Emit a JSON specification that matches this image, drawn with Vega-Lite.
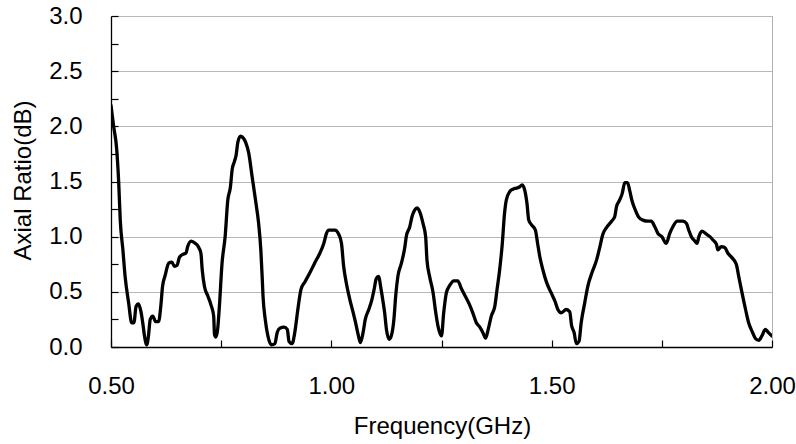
{
  "$schema": "https://vega.github.io/schema/vega-lite/v6.json",
  "width": 661,
  "height": 331,
  "autosize": {"type": "none"},
  "padding": {"left": 111, "top": 16, "right": 24, "bottom": 97},
  "background": "white",
  "config": {
    "view": {"stroke": "#b0b0b0", "strokeWidth": 1},
    "font": "Liberation Sans"
  },
  "data": {"values": [
    {"f":0.500,"ar":2.19},{"f":0.506,"ar":2.00},{"f":0.513,"ar":1.79},{"f":0.5175,"ar":1.49},{"f":0.521,"ar":1.15},
    {"f":0.527,"ar":0.88},{"f":0.532,"ar":0.64},{"f":0.540,"ar":0.40},{"f":0.547,"ar":0.22},{"f":0.552,"ar":0.22},
    {"f":0.557,"ar":0.37},{"f":0.562,"ar":0.39},{"f":0.568,"ar":0.32},{"f":0.572,"ar":0.22},{"f":0.576,"ar":0.10},
    {"f":0.581,"ar":0.02},{"f":0.585,"ar":0.10},{"f":0.589,"ar":0.25},{"f":0.595,"ar":0.28},{"f":0.601,"ar":0.23},
    {"f":0.608,"ar":0.23},{"f":0.613,"ar":0.37},{"f":0.617,"ar":0.55},{"f":0.623,"ar":0.65},{"f":0.631,"ar":0.76},
    {"f":0.638,"ar":0.77},{"f":0.644,"ar":0.73},{"f":0.650,"ar":0.74},{"f":0.655,"ar":0.81},{"f":0.663,"ar":0.84},
    {"f":0.670,"ar":0.85},{"f":0.674,"ar":0.91},{"f":0.682,"ar":0.96},{"f":0.691,"ar":0.94},{"f":0.698,"ar":0.91},
    {"f":0.704,"ar":0.85},{"f":0.707,"ar":0.70},{"f":0.712,"ar":0.55},{"f":0.720,"ar":0.46},{"f":0.727,"ar":0.38},
    {"f":0.733,"ar":0.28},{"f":0.735,"ar":0.11},{"f":0.738,"ar":0.09},{"f":0.742,"ar":0.16},{"f":0.746,"ar":0.37},
    {"f":0.752,"ar":0.76},{"f":0.759,"ar":1.00},{"f":0.765,"ar":1.33},{"f":0.771,"ar":1.45},{"f":0.775,"ar":1.61},
    {"f":0.780,"ar":1.68},{"f":0.784,"ar":1.74},{"f":0.788,"ar":1.86},{"f":0.794,"ar":1.91},{"f":0.801,"ar":1.89},
    {"f":0.806,"ar":1.85},{"f":0.8125,"ar":1.76},{"f":0.820,"ar":1.55},{"f":0.828,"ar":1.33},{"f":0.835,"ar":1.12},
    {"f":0.840,"ar":0.88},{"f":0.843,"ar":0.64},{"f":0.845,"ar":0.46},{"f":0.850,"ar":0.25},{"f":0.856,"ar":0.10},
    {"f":0.864,"ar":0.02},{"f":0.872,"ar":0.03},{"f":0.877,"ar":0.13},{"f":0.883,"ar":0.17},{"f":0.893,"ar":0.18},
    {"f":0.900,"ar":0.16},{"f":0.904,"ar":0.05},{"f":0.911,"ar":0.03},{"f":0.917,"ar":0.13},{"f":0.924,"ar":0.34},
    {"f":0.931,"ar":0.52},{"f":0.940,"ar":0.59},{"f":0.951,"ar":0.67},{"f":0.962,"ar":0.76},{"f":0.974,"ar":0.85},
    {"f":0.983,"ar":0.94},{"f":0.989,"ar":1.03},{"f":0.994,"ar":1.06},{"f":1.008,"ar":1.06},{"f":1.017,"ar":1.02},
    {"f":1.023,"ar":0.94},{"f":1.028,"ar":0.73},{"f":1.034,"ar":0.58},{"f":1.042,"ar":0.43},{"f":1.049,"ar":0.32},
    {"f":1.055,"ar":0.22},{"f":1.061,"ar":0.11},{"f":1.066,"ar":0.04},{"f":1.072,"ar":0.13},{"f":1.077,"ar":0.25},
    {"f":1.085,"ar":0.34},{"f":1.092,"ar":0.43},{"f":1.097,"ar":0.52},{"f":1.102,"ar":0.62},{"f":1.107,"ar":0.64},
    {"f":1.113,"ar":0.52},{"f":1.117,"ar":0.42},{"f":1.121,"ar":0.31},{"f":1.125,"ar":0.16},{"f":1.131,"ar":0.07},
    {"f":1.136,"ar":0.10},{"f":1.142,"ar":0.25},{"f":1.146,"ar":0.46},{"f":1.151,"ar":0.64},{"f":1.159,"ar":0.76},
    {"f":1.167,"ar":0.91},{"f":1.170,"ar":1.00},{"f":1.178,"ar":1.09},{"f":1.183,"ar":1.18},{"f":1.189,"ar":1.24},
    {"f":1.195,"ar":1.26},{"f":1.202,"ar":1.21},{"f":1.208,"ar":1.12},{"f":1.214,"ar":1.00},{"f":1.217,"ar":0.79},
    {"f":1.223,"ar":0.64},{"f":1.231,"ar":0.49},{"f":1.237,"ar":0.31},{"f":1.242,"ar":0.19},{"f":1.250,"ar":0.10},
    {"f":1.255,"ar":0.31},{"f":1.261,"ar":0.49},{"f":1.269,"ar":0.56},{"f":1.278,"ar":0.60},{"f":1.287,"ar":0.60},
    {"f":1.295,"ar":0.53},{"f":1.304,"ar":0.46},{"f":1.314,"ar":0.38},{"f":1.321,"ar":0.31},{"f":1.329,"ar":0.22},
    {"f":1.337,"ar":0.18},{"f":1.344,"ar":0.13},{"f":1.350,"ar":0.08},{"f":1.356,"ar":0.16},{"f":1.363,"ar":0.28},
    {"f":1.371,"ar":0.37},{"f":1.376,"ar":0.52},{"f":1.382,"ar":0.70},{"f":1.388,"ar":0.94},{"f":1.393,"ar":1.21},
    {"f":1.397,"ar":1.33},{"f":1.405,"ar":1.41},{"f":1.412,"ar":1.43},{"f":1.420,"ar":1.44},{"f":1.427,"ar":1.45},
    {"f":1.433,"ar":1.47},{"f":1.439,"ar":1.42},{"f":1.444,"ar":1.30},{"f":1.448,"ar":1.15},{"f":1.454,"ar":1.11},
    {"f":1.463,"ar":1.06},{"f":1.468,"ar":0.94},{"f":1.473,"ar":0.82},{"f":1.480,"ar":0.70},{"f":1.488,"ar":0.59},
    {"f":1.499,"ar":0.49},{"f":1.508,"ar":0.41},{"f":1.514,"ar":0.34},{"f":1.522,"ar":0.31},{"f":1.533,"ar":0.34},
    {"f":1.541,"ar":0.32},{"f":1.545,"ar":0.20},{"f":1.551,"ar":0.13},{"f":1.556,"ar":0.03},{"f":1.562,"ar":0.05},
    {"f":1.567,"ar":0.22},{"f":1.575,"ar":0.40},{"f":1.582,"ar":0.55},{"f":1.592,"ar":0.68},{"f":1.602,"ar":0.79},
    {"f":1.609,"ar":0.90},{"f":1.616,"ar":1.02},{"f":1.624,"ar":1.08},{"f":1.636,"ar":1.14},{"f":1.643,"ar":1.18},
    {"f":1.647,"ar":1.27},{"f":1.654,"ar":1.33},{"f":1.660,"ar":1.39},{"f":1.666,"ar":1.49},{"f":1.672,"ar":1.49},
    {"f":1.677,"ar":1.42},{"f":1.682,"ar":1.33},{"f":1.690,"ar":1.24},{"f":1.697,"ar":1.18},{"f":1.707,"ar":1.15},
    {"f":1.719,"ar":1.14},{"f":1.726,"ar":1.14},{"f":1.734,"ar":1.09},{"f":1.741,"ar":1.03},{"f":1.750,"ar":1.00},
    {"f":1.760,"ar":0.94},{"f":1.768,"ar":1.03},{"f":1.775,"ar":1.09},{"f":1.785,"ar":1.14},{"f":1.798,"ar":1.14},
    {"f":1.806,"ar":1.12},{"f":1.811,"ar":1.06},{"f":1.817,"ar":1.00},{"f":1.825,"ar":0.96},{"f":1.830,"ar":0.94},
    {"f":1.834,"ar":1.00},{"f":1.841,"ar":1.05},{"f":1.849,"ar":1.03},{"f":1.859,"ar":1.00},{"f":1.866,"ar":0.97},
    {"f":1.874,"ar":0.93},{"f":1.877,"ar":0.88},{"f":1.885,"ar":0.91},{"f":1.893,"ar":0.90},{"f":1.900,"ar":0.85},
    {"f":1.909,"ar":0.81},{"f":1.919,"ar":0.75},{"f":1.924,"ar":0.65},{"f":1.932,"ar":0.49},{"f":1.940,"ar":0.34},
    {"f":1.947,"ar":0.22},{"f":1.955,"ar":0.14},{"f":1.962,"ar":0.08},{"f":1.970,"ar":0.06},{"f":1.977,"ar":0.10},
    {"f":1.985,"ar":0.16},{"f":1.992,"ar":0.13},{"f":2.000,"ar":0.10}
  ]},
  "mark": {"type": "line", "color": "black", "strokeWidth": 3.3, "strokeJoin": "round", "strokeCap": "round", "interpolate": "monotone", "clip": true},
  "encoding": {
    "x": {
      "field": "f", "type": "quantitative",
      "scale": {"domain": [0.5, 2.0], "nice": false, "zero": false},
      "axis": {
        "title": "Frequency(GHz)",
        "values": [0.5, 0.75, 1.0, 1.25, 1.5, 1.75, 2.0],
        "labelExpr": "datum.value % 0.5 === 0 ? format(datum.value, '.2f') : ''",
        "labelFlush": false, "labelOverlap": false, "labelBound": false,
        "labelFontSize": 24, "labelColor": "black", "labelFont": "Liberation Sans",
        "labelPadding": 34,
        "grid": false,
        "domainColor": "black", "domainWidth": 1.3,
        "tickColor": "black", "tickSize": -7, "tickWidth": 1.2,
        "titleFontSize": 24, "titleFontWeight": "normal", "titleColor": "black", "titleFont": "Liberation Sans",
        "titleBaseline": "alphabetic", "titleY": 86, "titleX": 331, "titleAlign": "center", "titleAnchor": null
      }
    },
    "y": {
      "field": "ar", "type": "quantitative",
      "scale": {"domain": [0, 3], "nice": false},
      "axis": {
        "title": "Axial Ratio(dB)",
        "values": [0, 0.25, 0.5, 0.75, 1.0, 1.25, 1.5, 1.75, 2.0, 2.25, 2.5, 2.75, 3.0],
        "labelExpr": "datum.value % 0.5 === 0 ? format(datum.value, '.1f') : ''",
        "labelFlush": false, "labelOverlap": false, "labelBound": false,
        "labelFontSize": 24, "labelColor": "black", "labelFont": "Liberation Sans",
        "labelPadding": 36,
        "grid": true, "gridColor": "#b8b8b8", "gridWidth": 1,
        "gridOpacity": {"condition": {"test": "datum.value % 0.5 === 0", "value": 1}, "value": 0},
        "domainColor": "black", "domainWidth": 1.3,
        "tickColor": "black", "tickSize": -7, "tickWidth": 1.2,
        "titleFontSize": 24, "titleFontWeight": "normal", "titleColor": "black", "titleFont": "Liberation Sans",
        "titleAngle": -90, "titleBaseline": "alphabetic", "titleX": -81, "titleY": 164, "titleAlign": "center", "titleAnchor": null
      }
    }
  }
}
